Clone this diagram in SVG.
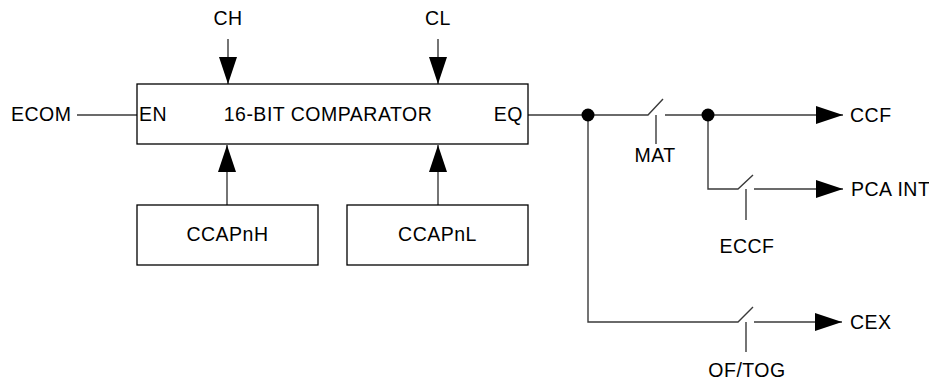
<svg xmlns="http://www.w3.org/2000/svg" width="929" height="381" viewBox="0 0 929 381">
<style>
text{font-family:"Liberation Sans",Arial,sans-serif;font-size:19.5px;letter-spacing:0.5px;fill:#000}
.box{fill:#fff;stroke:#000;stroke-width:1.3}
.w{fill:none;stroke:#3a3a3a;stroke-width:1.4}
.dot{fill:#000}
</style>
<defs>
<marker id="ah" viewBox="0 0 27 18" refX="27" refY="9" markerWidth="27" markerHeight="18" orient="auto" markerUnits="userSpaceOnUse">
<path d="M0,0 L27,9 L0,18 z" fill="#000"/>
</marker>
</defs>
<g id="connectors">
<line class="w" x1="77" y1="115" x2="137" y2="115"/>
<line class="w" x1="228" y1="39" x2="228" y2="84" marker-end="url(#ah)"/>
<line class="w" x1="438" y1="39" x2="438" y2="84" marker-end="url(#ah)"/>
<line class="w" x1="227" y1="205" x2="227" y2="145" marker-end="url(#ah)"/>
<line class="w" x1="438" y1="205" x2="438" y2="145" marker-end="url(#ah)"/>
<polyline class="w" points="528,115 648,115 663,99"/>
<line class="w" x1="656" y1="115" x2="656" y2="144"/>
<line class="w" x1="665" y1="115" x2="843" y2="115" marker-end="url(#ah)"/>
<polyline class="w" points="708,115 708,189 738,189 753,175"/>
<line class="w" x1="746" y1="189" x2="746" y2="220"/>
<line class="w" x1="754" y1="189" x2="843" y2="189" marker-end="url(#ah)"/>
<polyline class="w" points="588,115 588,322 738,322 753,307"/>
<line class="w" x1="746" y1="322" x2="746" y2="352"/>
<line class="w" x1="754" y1="322" x2="842" y2="322" marker-end="url(#ah)"/>
<circle class="dot" cx="588" cy="115" r="6.5"/>
<circle class="dot" cx="708" cy="115" r="6.5"/>
</g>
<g id="comparator">
<rect class="box" x="137" y="84" width="391" height="60"/>
<text x="139" y="121">EN</text>
<text x="328" y="121" text-anchor="middle">16-BIT COMPARATOR</text>
<text x="523" y="121" text-anchor="end">EQ</text>
</g>
<g id="ccapnh">
<rect class="box" x="137" y="205" width="181" height="60"/>
<text x="227.5" y="241" text-anchor="middle">CCAPnH</text>
</g>
<g id="ccapnl">
<rect class="box" x="347" y="205" width="181" height="60"/>
<text x="437.5" y="241" text-anchor="middle">CCAPnL</text>
</g>
<g id="labels">
<text x="71.5" y="121" text-anchor="end">ECOM</text>
<text x="228" y="25" text-anchor="middle">CH</text>
<text x="438" y="25" text-anchor="middle">CL</text>
<text x="655" y="162" text-anchor="middle">MAT</text>
<text x="747" y="253" text-anchor="middle">ECCF</text>
<text x="747" y="377" text-anchor="middle">OF/TOG</text>
<text x="850" y="122">CCF</text>
<text x="851" y="196">PCA INT</text>
<text x="850" y="329">CEX</text>
</g>
</svg>
